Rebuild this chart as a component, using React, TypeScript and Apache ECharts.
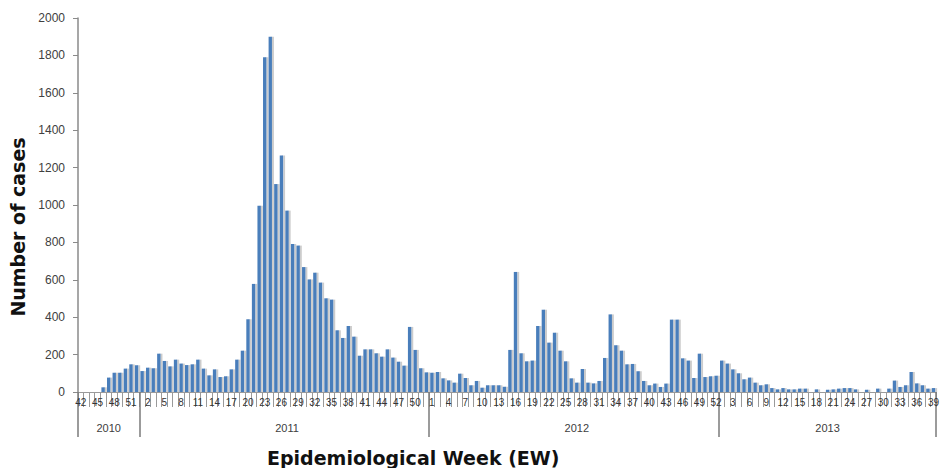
import React, { useEffect, useRef } from "react";
import * as echarts from "echarts";

// Weekly case counts, by year (start week given)
const yearLabels = ["2010", "2011", "2012", "2013"];
const startWeeks = [42, 1, 1, 1];
const cases2010 = [0, 0, 0, 0, 25, 77, 103, 103, 125, 148, 143];
const cases2011 = [
  112, 130, 127, 205, 166, 137, 173, 152, 144, 148, 173, 125, 89, 121, 80, 84,
  121, 173, 221, 389, 578, 996, 1790, 1900, 1112, 1265, 970, 791, 783, 668, 602,
  638, 585, 501, 494, 330, 289, 353, 296, 194, 228, 228, 207, 189, 228, 184, 162,
  141, 348, 225, 127, 105,
];
const cases2012 = [
  103, 107, 73, 62, 50, 98, 75, 36, 59, 23, 36, 36, 36, 28, 225, 642, 207, 164,
  168, 353, 440, 264, 317, 221, 164, 73, 50, 123, 50, 46, 59, 182, 415, 250, 221,
  148, 150, 111, 59, 36, 45, 27, 45, 387, 387, 180, 168, 75, 205, 80, 84, 87,
];
const cases2013 = [
  168, 152, 121, 100, 68, 77, 50, 36, 41, 21, 14, 21, 14, 14, 18, 18, 0, 14, 0,
  12, 14, 18, 21, 21, 14, 0, 12, 0, 18, 0, 18, 61, 27, 36, 107, 46, 36, 18, 21,
];
const yTicks = [0, 200, 400, 600, 800, 1000, 1200, 1400, 1600, 1800, 2000];

const yearSeries = [cases2010, cases2011, cases2012, cases2013];

export default function App() {
  const ref = useRef<HTMLDivElement>(null);
  useEffect(() => {
    document.body.style.margin = "0";
    if (!ref.current) return;
    const chart = echarts.init(ref.current, undefined, { renderer: "svg" });

    const weeks: string[] = [];
    const values: number[] = [];
    const yearStart: number[] = [];
    const yearMid: Record<number, string> = {};
    yearSeries.forEach((arr, yi) => {
      yearStart.push(weeks.length);
      yearMid[weeks.length + Math.floor(arr.length / 2)] = yearLabels[yi];
      arr.forEach((v, k) => {
        weeks.push(String(startWeeks[yi] + k));
        values.push(v);
      });
    });

    chart.setOption({
      animation: false,
      title: {
        text: "Epidemiological Week (EW)",
        left: 262,
        top: 443,
        textStyle: {
          fontFamily: "DejaVu Sans",
          fontWeight: "bold",
          fontSize: 19,
          color: "#111",
        },
      },
      grid: { left: 78, right: 2, top: 18, bottom: 76, containLabel: false },
      xAxis: [
        {
          type: "category",
          data: weeks,
          position: "bottom",
          axisLine: { show: true, lineStyle: { color: "#9a9a9a", width: 1 } },
          axisTick: {
            show: true,
            interval: 0,
            length: 15,
            lineStyle: { color: "#9a9a9a", width: 1 },
          },
          axisLabel: {
            interval: 2,
            margin: 5,
            fontSize: 10,
            color: "#333",
            fontFamily: "Liberation Sans",
          },
        },
        {
          type: "category",
          data: weeks,
          position: "bottom",
          offset: 0,
          axisLine: { show: false },
          axisTick: {
            show: true,
            interval: (index: number) => yearStart.includes(index),
            length: 45,
            lineStyle: { color: "#7a7a7a", width: 1.5 },
          },
          axisLabel: {
            interval: (index: number) => yearMid[index] !== undefined,
            formatter: (_v: string, index: number) => yearMid[index] || "",
            margin: 30,
            fontSize: 11,
            color: "#404040",
            fontFamily: "Liberation Sans",
          },
        },
      ],
      yAxis: {
        type: "value",
        min: 0,
        max: 2000,
        interval: 200,
        name: "Number of cases",
        nameLocation: "middle",
        nameRotate: 90,
        nameGap: 50,
        nameTextStyle: {
          fontFamily: "DejaVu Sans",
          fontWeight: "bold",
          fontSize: 19,
          color: "#111",
          padding: [0, 44, 0, 0],
        },
        axisLine: { show: true, lineStyle: { color: "#8a8a8a", width: 1.5 } },
        axisTick: { show: true, length: 5, lineStyle: { color: "#8a8a8a" } },
        axisLabel: {
          margin: 13,
          fontSize: 12,
          color: "#404040",
          fontFamily: "Liberation Sans",
          customValues: yTicks,
          formatter: (v: number) => String(v),
        },
        splitLine: { show: false },
      },
      series: [
        {
          type: "bar",
          data: values,
          xAxisIndex: 0,
          barCategoryGap: "40%",
          itemStyle: {
            color: "#4a7ebb",
            shadowColor: "rgba(0,0,0,0.2)",
            shadowOffsetX: 2,
            shadowBlur: 1,
          },
        },
      ],
    });
    return () => chart.dispose();
  }, []);
  return <div ref={ref} style={{ width: 942, height: 468 }} />;
}
